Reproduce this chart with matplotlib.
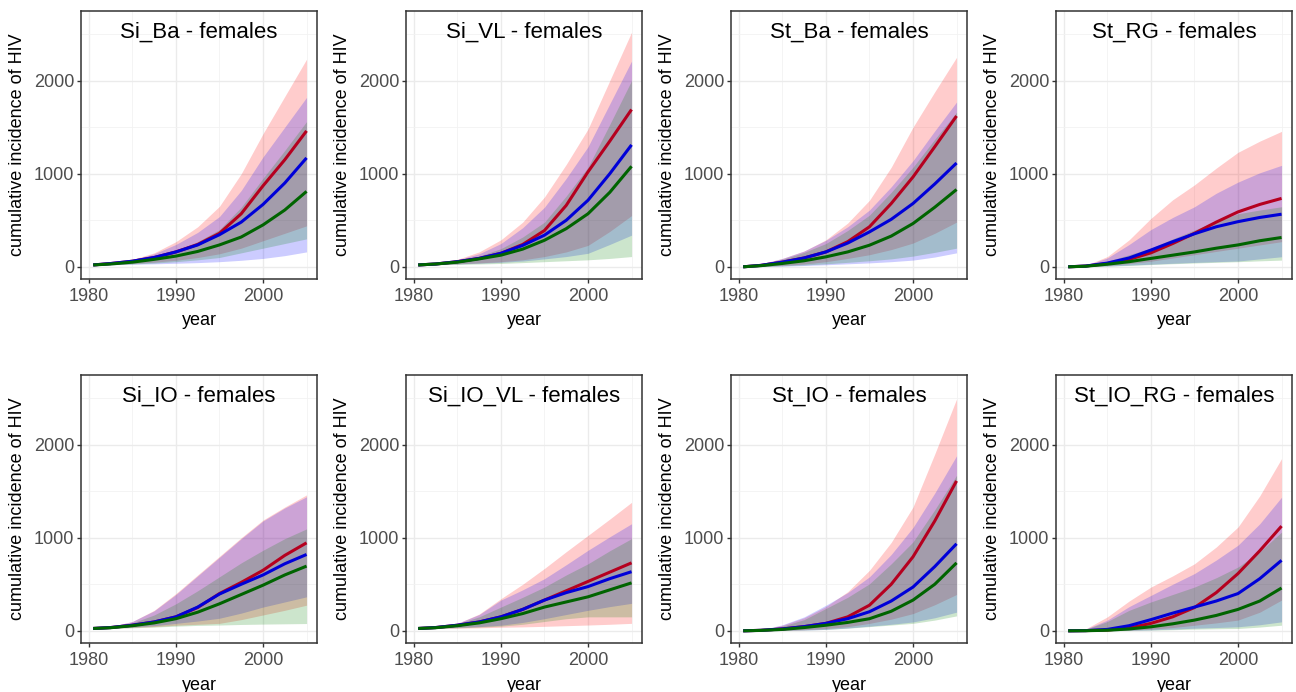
import matplotlib.pyplot as plt

# === data ===
years = [1980.5, 1982.5, 1985, 1987.5, 1990, 1992.5, 1995, 1997.5, 2000, 2002.5, 2005]

titles = ["Si_Ba - females", "Si_VL - females", "St_Ba - females", "St_RG - females",
          "Si_IO - females", "Si_IO_VL - females", "St_IO - females", "St_IO_RG - females"]

# Si_Ba
si_ba_red = [20, 35, 60, 100, 160, 240, 360, 570, 870, 1150, 1460]
si_ba_red_lo = [20, 25, 35, 50, 70, 100, 140, 200, 280, 360, 440]
si_ba_red_hi = [20, 45, 80, 150, 270, 430, 650, 1000, 1430, 1830, 2230]
si_ba_blue = [20, 35, 60, 100, 160, 235, 345, 480, 670, 900, 1170]
si_ba_blue_lo = [20, 22, 28, 32, 38, 45, 55, 70, 90, 120, 160]
si_ba_blue_hi = [20, 45, 75, 140, 240, 370, 540, 820, 1180, 1500, 1820]
si_ba_green = [20, 30, 50, 80, 115, 165, 235, 320, 450, 610, 810]
si_ba_green_lo = [20, 25, 30, 40, 55, 75, 100, 150, 200, 250, 300]
si_ba_green_hi = [20, 40, 65, 110, 175, 270, 400, 640, 950, 1250, 1560]

# Si_VL
si_vl_red = [20, 30, 55, 90, 145, 240, 390, 660, 1020, 1350, 1690]
si_vl_red_lo = [20, 25, 32, 42, 55, 75, 110, 160, 230, 380, 550]
si_vl_red_hi = [20, 40, 80, 160, 290, 480, 750, 1100, 1480, 2000, 2520]
si_vl_blue = [20, 30, 55, 90, 145, 230, 340, 500, 715, 1000, 1310]
si_vl_blue_lo = [20, 24, 30, 38, 48, 62, 85, 110, 145, 240, 340]
si_vl_blue_hi = [20, 40, 75, 140, 250, 420, 640, 950, 1290, 1750, 2210]
si_vl_green = [20, 30, 50, 85, 125, 190, 285, 410, 570, 800, 1080]
si_vl_green_lo = [20, 22, 26, 30, 36, 45, 55, 65, 75, 90, 110]
si_vl_green_hi = [20, 35, 65, 115, 195, 320, 480, 760, 1070, 1530, 2000]

# St_Ba
st_ba_red = [0, 15, 50, 95, 160, 270, 430, 680, 965, 1290, 1620]
st_ba_red_lo = [0, 5, 15, 30, 55, 90, 130, 185, 255, 360, 480]
st_ba_red_hi = [0, 30, 90, 170, 290, 470, 715, 1070, 1500, 1880, 2250]
st_ba_blue = [0, 15, 50, 95, 160, 255, 375, 510, 680, 890, 1115]
st_ba_blue_lo = [0, 2, 7, 14, 22, 32, 42, 55, 72, 105, 150]
st_ba_blue_hi = [0, 30, 90, 170, 285, 430, 610, 860, 1140, 1460, 1770]
st_ba_green = [0, 12, 36, 65, 107, 160, 232, 330, 465, 640, 830]
st_ba_green_lo = [0, 3, 10, 20, 32, 48, 65, 85, 115, 155, 200]
st_ba_green_hi = [0, 25, 80, 155, 250, 390, 555, 800, 1070, 1370, 1660]

# St_RG
st_rg_red = [0, 8, 35, 80, 150, 250, 360, 480, 590, 670, 735]
st_rg_red_lo = [0, 3, 15, 35, 60, 95, 130, 165, 200, 235, 270]
st_rg_red_hi = [0, 15, 110, 290, 520, 720, 880, 1060, 1230, 1350, 1455]
st_rg_blue = [0, 8, 40, 95, 180, 270, 355, 430, 485, 530, 565]
st_rg_blue_lo = [0, 2, 8, 18, 28, 38, 47, 55, 62, 85, 108]
st_rg_blue_hi = [0, 15, 95, 240, 400, 530, 645, 790, 910, 1010, 1090]
st_rg_green = [0, 6, 28, 55, 90, 125, 160, 200, 235, 280, 315]
st_rg_green_lo = [0, 2, 7, 15, 24, 33, 41, 48, 55, 64, 72]
st_rg_green_hi = [0, 10, 60, 130, 200, 300, 395, 490, 570, 610, 645]

# Si_IO
si_io_red = [25, 35, 60, 95, 150, 250, 400, 520, 650, 810, 945]
si_io_red_lo = [25, 28, 35, 45, 60, 70, 80, 120, 170, 220, 275]
si_io_red_hi = [25, 45, 100, 220, 400, 600, 800, 1000, 1190, 1330, 1460]
si_io_blue = [25, 35, 60, 95, 150, 255, 395, 500, 600, 720, 820]
si_io_blue_lo = [25, 30, 40, 55, 80, 105, 135, 190, 255, 310, 365]
si_io_blue_hi = [25, 45, 100, 215, 390, 590, 790, 990, 1180, 1320, 1440]
si_io_green = [25, 33, 55, 85, 130, 200, 290, 390, 490, 600, 695]
si_io_green_lo = [25, 27, 32, 40, 50, 58, 62, 68, 72, 75, 78]
si_io_green_hi = [25, 40, 85, 170, 290, 430, 580, 730, 865, 990, 1095]

# Si_IO_VL
si_io_vl_red = [25, 35, 60, 95, 150, 230, 330, 430, 530, 630, 730]
si_io_vl_red_lo = [25, 26, 28, 32, 38, 42, 48, 55, 62, 70, 80]
si_io_vl_red_hi = [25, 40, 80, 180, 345, 500, 670, 850, 1025, 1200, 1380]
si_io_vl_blue = [25, 35, 60, 95, 150, 230, 330, 410, 475, 560, 635]
si_io_vl_blue_lo = [25, 28, 35, 45, 60, 90, 130, 175, 220, 260, 295]
si_io_vl_blue_hi = [25, 40, 80, 175, 330, 440, 560, 710, 865, 1010, 1150]
si_io_vl_green = [25, 33, 55, 85, 130, 185, 255, 310, 365, 440, 515]
si_io_vl_green_lo = [25, 27, 32, 40, 50, 70, 100, 130, 150, 150, 150]
si_io_vl_green_hi = [25, 38, 75, 150, 255, 360, 470, 600, 720, 860, 990]

# St_IO
st_io_red = [0, 5, 20, 45, 80, 150, 275, 500, 795, 1180, 1610]
st_io_red_lo = [0, 2, 5, 12, 25, 45, 80, 125, 185, 280, 390]
st_io_red_hi = [0, 10, 60, 140, 260, 420, 650, 950, 1330, 1900, 2490]
st_io_blue = [0, 5, 20, 45, 80, 130, 205, 320, 470, 690, 935]
st_io_blue_lo = [0, 1, 3, 8, 15, 30, 50, 70, 95, 140, 200]
st_io_blue_hi = [0, 10, 65, 150, 275, 410, 580, 820, 1110, 1480, 1880]
st_io_green = [0, 4, 15, 35, 60, 90, 130, 210, 330, 500, 730]
st_io_green_lo = [0, 1, 3, 8, 15, 28, 45, 62, 80, 115, 160]
st_io_green_hi = [0, 8, 50, 120, 240, 360, 505, 720, 955, 1300, 1670]

# St_IO_RG
st_io_rg_red = [0, 2, 8, 30, 80, 150, 250, 410, 615, 860, 1125]
st_io_rg_red_lo = [0, 0, 2, 8, 18, 35, 60, 85, 115, 200, 330]
st_io_rg_red_hi = [0, 20, 150, 320, 470, 590, 720, 900, 1115, 1450, 1850]
st_io_rg_blue = [0, 2, 15, 55, 120, 190, 255, 320, 400, 560, 757]
st_io_rg_blue_lo = [0, 0, 1, 4, 10, 18, 28, 35, 43, 65, 96]
st_io_rg_blue_hi = [0, 18, 115, 260, 380, 500, 615, 760, 920, 1150, 1435]
st_io_rg_green = [0, 1, 6, 20, 43, 75, 115, 165, 230, 320, 460]
st_io_rg_green_lo = [0, 0, 1, 3, 7, 12, 18, 22, 25, 40, 60]
st_io_rg_green_hi = [0, 15, 100, 220, 310, 390, 470, 570, 685, 850, 1060]

panels = [
    (si_ba_red, si_ba_red_lo, si_ba_red_hi, si_ba_blue, si_ba_blue_lo, si_ba_blue_hi,
     si_ba_green, si_ba_green_lo, si_ba_green_hi),
    (si_vl_red, si_vl_red_lo, si_vl_red_hi, si_vl_blue, si_vl_blue_lo, si_vl_blue_hi,
     si_vl_green, si_vl_green_lo, si_vl_green_hi),
    (st_ba_red, st_ba_red_lo, st_ba_red_hi, st_ba_blue, st_ba_blue_lo, st_ba_blue_hi,
     st_ba_green, st_ba_green_lo, st_ba_green_hi),
    (st_rg_red, st_rg_red_lo, st_rg_red_hi, st_rg_blue, st_rg_blue_lo, st_rg_blue_hi,
     st_rg_green, st_rg_green_lo, st_rg_green_hi),
    (si_io_red, si_io_red_lo, si_io_red_hi, si_io_blue, si_io_blue_lo, si_io_blue_hi,
     si_io_green, si_io_green_lo, si_io_green_hi),
    (si_io_vl_red, si_io_vl_red_lo, si_io_vl_red_hi, si_io_vl_blue, si_io_vl_blue_lo, si_io_vl_blue_hi,
     si_io_vl_green, si_io_vl_green_lo, si_io_vl_green_hi),
    (st_io_red, st_io_red_lo, st_io_red_hi, st_io_blue, st_io_blue_lo, st_io_blue_hi,
     st_io_green, st_io_green_lo, st_io_green_hi),
    (st_io_rg_red, st_io_rg_red_lo, st_io_rg_red_hi, st_io_rg_blue, st_io_rg_blue_lo, st_io_rg_blue_hi,
     st_io_rg_green, st_io_rg_green_lo, st_io_rg_green_hi),
]

# === style ===
band_colors = ["#FF0000", "#0000FF", "#008000"]
line_colors = ["#B5001F", "#0000D8", "#006400"]

plt.rcParams['font.family'] = ['Liberation Sans', 'DejaVu Sans']

fig = plt.figure(figsize=(12.96, 6.92), dpi=100)
FW, FH = 1296, 692
col_left = [81, 406, 731, 1056]
row_top = [11, 375]
W, H = 236, 268

for i, (title, series) in enumerate(zip(titles, panels)):
    r, c = divmod(i, 4)
    ax = fig.add_axes([col_left[c] / FW, 1 - (row_top[r] + H) / FH, W / FW, H / FH])

    # ribbons first, then the median lines on top
    for k in range(3):
        mid, lo, hi = series[3 * k], series[3 * k + 1], series[3 * k + 2]
        ax.fill_between(years, lo, hi, color=band_colors[k], alpha=0.2, lw=0, zorder=2)
    for k in range(3):
        ax.plot(years, series[3 * k], color=line_colors[k], lw=2.2, zorder=3,
                solid_capstyle='butt')

    ax.set_xlim(1979.1, 2006.2)
    ax.set_ylim(-131, 2748)
    ax.set_xticks([1980, 1990, 2000])
    ax.set_xticks([1985, 1995, 2005], minor=True)
    ax.set_yticks([0, 1000, 2000])
    ax.set_yticks([500, 1500, 2500], minor=True)
    ax.grid(which='major', color='#EBEBEB', lw=1.0, zorder=0)
    ax.grid(which='minor', color='#F2F2F2', lw=0.6, zorder=0)
    ax.set_axisbelow(True)

    ax.tick_params(which='major', length=3, width=1, color='#333333',
                   labelsize=13, labelcolor='#4D4D4D', pad=2)
    ax.tick_params(axis='x', which='major', pad=3.5)
    ax.tick_params(which='minor', length=0)
    for sp in ax.spines.values():
        sp.set_color('#333333')
        sp.set_linewidth(1.1)

    ax.text(0.5, 0.922, title, transform=ax.transAxes, ha='center', va='center',
            fontsize=16, color='black')
    ax.set_ylabel('cumulative incidence of HIV', fontsize=13)
    ax.yaxis.set_label_coords(-0.232, 0.5)
    ax.set_xlabel('year', fontsize=13)
    ax.xaxis.set_label_coords(0.5, -0.125)

fig.savefig('out.png', dpi=100)
